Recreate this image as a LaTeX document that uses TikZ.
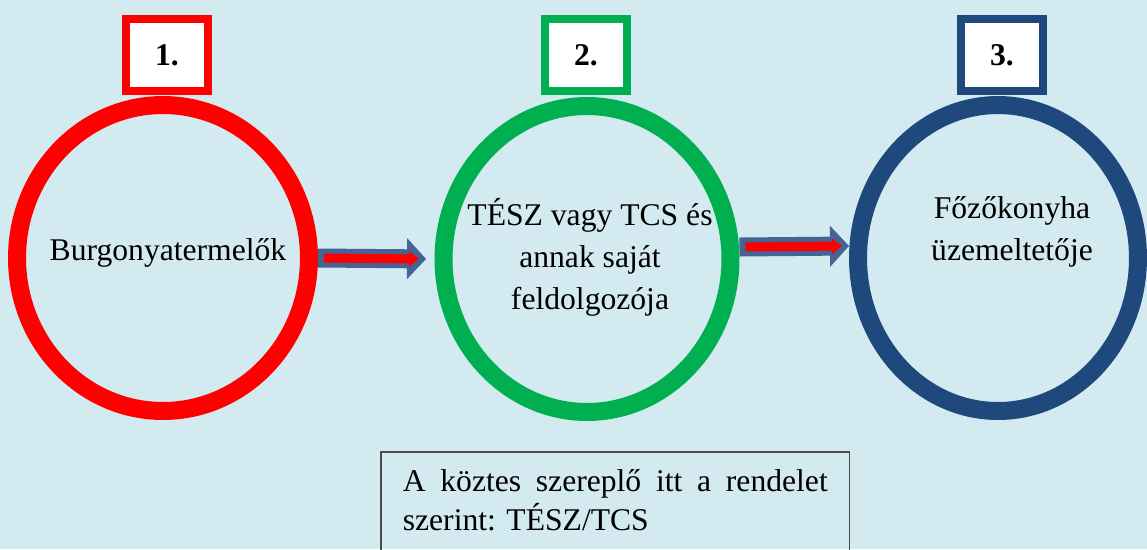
\documentclass[tikz,border=0pt]{standalone}
\usepackage{fontspec}
\setmainfont{Liberation Serif}
\usetikzlibrary{shapes.geometric,arrows.meta}
\definecolor{bgblue}{RGB}{210,234,240}
\definecolor{ringred}{RGB}{255,0,0}
\definecolor{ringgreen}{RGB}{0,176,80}
\definecolor{ringblue}{RGB}{31,73,125}
\definecolor{arrowblue}{RGB}{68,100,150}

\begin{document}
\begin{tikzpicture}[x=0.02cm,y=-0.02cm]
 \tikzstyle{ring} = [draw,ellipse,line width=0.36cm,minimum height=6.12cm]
 \tikzstyle{numbox} = [draw,fill=white,line width=0.16cm,minimum width=1.64cm,minimum height=1.44cm,font=\fontsize{18}{22}\selectfont\bfseries]
 \tikzstyle{ringtext} = [align=center,font=\fontsize{18}{24}\selectfont]
 \tikzstyle{bigarrow} = [arrowblue,line width=0.38cm,-{Triangle[length=0.38cm,width=0.8cm]}]
 \tikzstyle{innerarrow} = [ringred,line width=0.18cm,-{Triangle[length=0.2cm,width=0.3cm]}]

  \fill[bgblue] (0,0) rectangle (1147,549);
  \useasboundingbox (0,0) rectangle (1147,549);

  \coordinate (p1) at (163,258);
  \coordinate (p2) at (587,259);
  \coordinate (p3) at (998,258);

  % Rings
  \node[ring,draw=ringred,minimum width=5.84cm] (c1) at (p1) {};
  \node[ring,draw=ringgreen,minimum width=5.74cm] (c2) at (p2) {};
  \node[ring,draw=ringblue,minimum width=5.6cm] (c3) at (p3) {};

  % Numbers on top
  \node[numbox,draw=ringred  ] (b1) at (167,55)  {1.};
  \node[numbox,draw=ringgreen] (b2) at (586,55)  {2.};
  \node[numbox,draw=ringblue ] (b3) at (1002,55) {3.};

  % Texts
  \node[ringtext] (t1) at (168,253)  {Burgonyatermelők};
  \node[ringtext] (t2) at (590,257)  {TÉSZ vagy TCS és\\annak saját\\feldolgozója};
  \node[ringtext] (t3) at (1012,232) {Főzőkonyha\\üzemeltetője};

  % Arrows
  \draw[bigarrow,shorten >=0.17cm] (c1.east) -- (c2.west);
  \draw[innerarrow] ([xshift=0.12cm]c1.east) -- ([xshift=-0.31cm]c2.west);
  \draw[bigarrow] ([yshift=0.24cm]c2.east) -- ([yshift=0.24cm]c3.west);
  \draw[innerarrow] ([xshift=0.12cm,yshift=0.24cm]c2.east) -- ([xshift=-0.14cm,yshift=0.24cm]c3.west);

  % Note below
  \node[anchor=north west,text width=8.5cm,inner xsep=0.43cm,inner ysep=0.35cm,align=justify,font=\fontsize{18}{22}\selectfont] (note) at (381,452) {A köztes szereplő itt a rendelet\linebreak szerint: TÉSZ/TCS};
  \draw[black!70,line width=0.8pt] (note.north west) rectangle ([yshift=-1cm]note.south east);

\end{tikzpicture}
\end{document}
